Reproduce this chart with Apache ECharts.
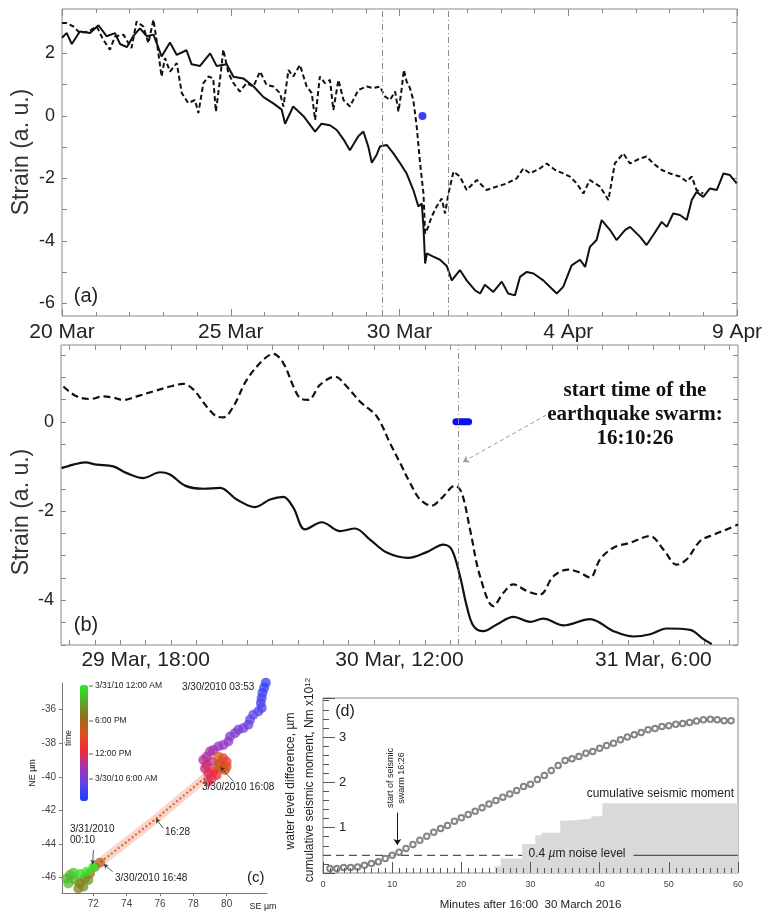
<!DOCTYPE html>
<html><head><meta charset="utf-8">
<script src="https://cdn.jsdelivr.net/npm/echarts@6/dist/echarts.min.js"></script>
<style>html,body{margin:0;padding:0;background:#fff}#c{width:766px;height:914px}</style>
</head><body><div id="c"></div>
<script>
const FONT = '"Liberation Sans", Arial, Helvetica, sans-serif';
const SERIF = '"Liberation Serif", "Times New Roman", serif';

// ---------- Panel (a): days after 20 Mar ----------
const aTickDays = [0, 5, 10, 15, 20];
const aTickLabels = ['20 Mar', '25 Mar', '30 Mar', '4 Apr', '9 Apr'];
const aYTicks = [-6, -5, -4, -3, -2, -1, 0, 1, 2, 3];
const aYLabels = [-6, -4, -2, 0, 2];
const aSolid = [[0,2.5],[0.14,2.65],[0.29,2.3],[0.53,2.7],[0.83,2.65],[1.08,2.9],[1.32,2.55],[1.57,2.65],[1.72,2.3],[1.92,2.2],[2.11,2.55],[2.31,2.8],[2.51,2.55],[2.71,2.6],[2.85,2.2],[2.95,1.9],[3.2,2.35],[3.4,1.95],[3.69,2.1],[3.84,1.65],[4.09,1.6],[4.39,2.0],[4.58,1.6],[4.88,1.65],[5.08,1.25],[5.37,1.2],[5.67,0.95],[5.97,0.6],[6.26,0.4],[6.51,0.2],[6.61,-0.25],[6.85,0.3],[7.15,0.0],[7.5,-0.5],[7.69,-0.25],[7.94,-0.3],[8.14,-0.45],[8.34,-0.75],[8.53,-1.1],[8.78,-0.65],[8.93,-0.5],[9.08,-1.0],[9.18,-1.5],[9.32,-1.25],[9.42,-0.98],[9.62,-0.93],[9.82,-1.2],[10.01,-1.5],[10.21,-1.84],[10.41,-2.37],[10.56,-2.9],[10.66,-2.8],[10.71,-3.55],[10.76,-4.72],[10.81,-4.4],[11.0,-4.5],[11.2,-4.6],[11.4,-4.8],[11.55,-5.26],[11.79,-4.93],[11.99,-5.26],[12.24,-5.58],[12.39,-5.68],[12.53,-5.4],[12.78,-5.63],[13.03,-5.3],[13.22,-5.68],[13.42,-5.74],[13.57,-5.15],[13.77,-4.99],[13.97,-5.04],[14.26,-5.26],[14.46,-5.47],[14.66,-5.68],[14.85,-5.47],[15.1,-4.78],[15.35,-4.6],[15.5,-4.83],[15.64,-4.19],[15.84,-3.97],[15.99,-3.33],[16.24,-3.65],[16.43,-3.97],[16.68,-3.65],[16.83,-3.55],[17.13,-3.87],[17.32,-4.13],[17.52,-3.81],[17.77,-3.39],[17.92,-3.55],[18.11,-3.12],[18.31,-3.17],[18.51,-3.33],[18.66,-2.69],[18.8,-2.43],[19.0,-2.59],[19.2,-2.32],[19.4,-2.37],[19.6,-1.84],[19.79,-1.89],[19.99,-2.16]];
const aDashed = [[0,2.97],[0.14,2.97],[0.34,2.86],[0.53,2.65],[0.78,2.7],[1.03,2.86],[1.22,2.44],[1.42,2.12],[1.57,2.54],[1.82,2.6],[2.06,2.17],[2.21,3.02],[2.41,2.86],[2.56,2.33],[2.71,3.08],[2.8,2.44],[2.95,1.26],[3.05,1.85],[3.2,1.42],[3.4,1.69],[3.55,0.73],[3.74,0.41],[3.94,0.51],[4.04,0.09],[4.19,1.05],[4.34,1.26],[4.48,1.2],[4.56,0.14],[4.68,1.15],[4.78,2.12],[4.93,1.37],[5.08,1.05],[5.27,0.78],[5.47,1.05],[5.67,0.94],[5.87,1.42],[6.06,0.99],[6.26,0.94],[6.46,0.73],[6.56,0.3],[6.71,1.47],[6.85,1.26],[7.05,1.63],[7.25,0.94],[7.4,0.73],[7.5,-0.13],[7.64,1.26],[7.79,1.05],[7.94,1.15],[8.04,0.19],[8.19,1.15],[8.34,0.51],[8.53,0.3],[8.78,0.83],[9.03,0.94],[9.22,0.89],[9.42,0.94],[9.57,0.62],[9.72,0.51],[9.87,0.78],[9.97,0.14],[10.06,0.83],[10.13,1.47],[10.21,1.1],[10.31,0.89],[10.41,0.51],[10.51,-0.34],[10.61,-1.52],[10.71,-2.48],[10.76,-3.76],[10.85,-3.55],[10.95,-3.23],[11.1,-2.9],[11.25,-2.64],[11.35,-3.12],[11.45,-2.48],[11.6,-1.78],[11.79,-1.94],[11.99,-2.37],[12.29,-2.05],[12.58,-2.37],[12.88,-2.26],[13.18,-2.16],[13.47,-2.0],[13.67,-1.68],[13.87,-1.84],[14.16,-1.68],[14.36,-1.52],[14.61,-1.73],[14.85,-1.84],[15.05,-1.94],[15.25,-2.16],[15.45,-2.48],[15.64,-2.05],[15.94,-2.26],[16.19,-2.69],[16.38,-1.52],[16.63,-1.2],[16.83,-1.52],[17.13,-1.36],[17.32,-1.3],[17.52,-1.52],[17.77,-1.73],[18.01,-1.84],[18.31,-1.94],[18.51,-2.1],[18.66,-1.94],[18.8,-2.37],[19.0,-2.48]];
const aSwarmDot = [[10.68, 0]];
const aVLines = [9.5, 11.45];

// ---------- Panel (b): hours after 29 Mar 12:00 ----------
const bTickHours = [0.6,2.4,4.2,6,7.8,9.6,11.4,13.2,15,16.8,18.6,20.4,22.2,24,25.8,27.6,29.4,31.2,33,34.8,36.6,38.4,40.2,42,43.8,45.6,47.4];
const bLabelHours = [6, 24, 42];
const bTickLabels = ['29 Mar, 18:00', '30 Mar, 12:00', '31 Mar, 6:00'];
const bYTicks = [-5,-4.5,-4,-3.5,-3,-2.5,-2,-1.5,-1,-0.5,0,0.5,1,1.5];
const bYLabels = [-4, -2, 0];
const bSolid = [[0.05,-1.04],[0.87,-0.96],[1.7,-0.91],[2.53,-0.96],[3.71,-1.0],[4.66,-1.15],[5.84,-1.26],[7.02,-1.13],[7.73,-1.18],[8.79,-1.43],[10.09,-1.5],[11.28,-1.48],[12.46,-1.74],[13.76,-1.91],[14.82,-1.74],[15.77,-1.68],[16.48,-1.93],[17.3,-2.41],[18.49,-2.25],[19.79,-2.45],[20.85,-2.39],[21.91,-2.64],[23.1,-2.93],[24.63,-3.05],[25.93,-2.92],[27.11,-2.75],[27.7,-2.86],[28.29,-3.46],[28.77,-4.13],[29.24,-4.57],[29.95,-4.69],[30.9,-4.54],[32.08,-4.37],[33.26,-4.48],[34.2,-4.41],[35.62,-4.56],[37.51,-4.42],[39.17,-4.69],[40.59,-4.81],[41.77,-4.76],[42.95,-4.63],[44.6,-4.66],[45.55,-4.87],[46.14,-4.98]];
const bDashed = [[0.17,0.79],[1.1,0.57],[2.06,0.51],[3.0,0.57],[3.7,0.54],[4.42,0.49],[5.37,0.57],[6.55,0.68],[7.73,0.79],[8.68,0.85],[9.39,0.72],[10.33,0.34],[11.04,0.12],[11.51,0.1],[12.22,0.34],[13.17,0.94],[14.35,1.39],[15.06,1.52],[15.77,1.31],[16.48,0.79],[16.95,0.53],[17.54,0.49],[18.37,0.83],[19.43,1.01],[20.26,0.79],[21.21,0.45],[22.39,0.12],[23.33,-0.48],[24.04,-0.92],[24.75,-1.37],[25.46,-1.74],[26.28,-1.88],[26.99,-1.71],[27.94,-1.43],[28.41,-1.59],[29.0,-2.41],[29.71,-3.46],[30.66,-4.13],[31.37,-3.83],[32.08,-3.64],[33.02,-3.79],[33.97,-3.87],[34.91,-3.46],[35.98,-3.31],[36.8,-3.38],[37.51,-3.49],[38.22,-3.08],[39.17,-2.82],[40.35,-2.71],[41.77,-2.56],[42.71,-2.86],[43.66,-3.2],[44.37,-3.08],[45.32,-2.67],[46.26,-2.53],[47.21,-2.41],[48.0,-2.3]];
const bSwarmBar = [[28.0, 0], [28.9, 0]];
const bVLine = [28.13];
const bArrow = [[34.4, 0.15], [28.5, -0.9]];

// ---------- Panel (c): GPS trajectory (SE, NE in micrometres; time in hours of 30 Mar) ----------
const cXLabels = [72, 74, 76, 78, 80];
const cYLabels = [-46, -44, -42, -40, -38, -36];
const cSE   = [82.35,82.25,82.15,82.1,82.05,82.1,81.9,81.6,81.4,81.3,81.0,80.7,80.5,80.2,80.1,79.8,79.5,79.2,79.0,78.8,78.6,78.8,79.1,78.7,78.9,79.1,78.9,79.2,79.4,79.6,79.8,80.0,79.7,80.0,79.5,79.9,79.5,72.4,72.1,71.8,71.5,71.2,71.1,71.4,71.7,70.9,70.6,70.4,70.5,70.8,71.2,71.6,72.0];
const cNE   = [-34.4,-34.7,-35.0,-35.3,-35.6,-35.9,-36.1,-36.3,-36.6,-36.9,-37.1,-37.2,-37.4,-37.6,-37.9,-38.1,-38.2,-38.4,-38.5,-38.8,-39.0,-39.3,-39.1,-39.5,-39.8,-40.1,-40.3,-39.7,-39.9,-39.2,-38.9,-39.1,-39.5,-39.4,-38.8,-39.6,-39.3,-45.12,-45.36,-45.76,-46.06,-46.36,-46.66,-46.56,-46.16,-46.16,-45.86,-46.06,-46.36,-45.72,-45.8,-45.66,-45.4];
const cTime = [3.9,4.2,4.5,4.8,5.1,5.4,5.7,6.0,6.3,6.6,6.9,7.2,7.5,7.8,8.1,8.4,8.7,9.0,9.3,9.6,9.9,10.2,10.5,10.8,11.1,11.4,11.7,12.0,12.3,12.8,13.3,13.8,14.3,14.8,15.3,15.8,16.13,16.8,17.2,17.6,18.0,18.5,19.0,19.5,20.0,20.5,21.0,21.5,22.0,22.5,23.0,23.5,24.0];
const cPathSE = [79.5, 75.76, 72.4];
const cPathNE = [-39.39, -42.51, -45.12];

// ---------- Panel (d): minutes after 16:00 ----------
const dMinutes = Array.from({length: 59}, (_, i) => i + 1);
const dWater = [0.10,0.10,0.12,0.12,0.13,0.17,0.21,0.25,0.32,0.39,0.46,0.54,0.63,0.72,0.81,0.90,0.98,1.05,1.14,1.22,1.29,1.36,1.44,1.52,1.60,1.67,1.74,1.82,1.91,1.96,2.06,2.15,2.26,2.37,2.48,2.52,2.57,2.64,2.68,2.75,2.81,2.86,2.94,3.0,3.05,3.1,3.16,3.19,3.23,3.25,3.28,3.30,3.32,3.35,3.38,3.39,3.38,3.36,3.36];
const dMomentX = [24.8, 25.7, 28.8, 30.7, 31.6, 34.3, 36.0, 38.8, 40.4, 60];
const dMomentY = [0.15, 0.32, 0.64, 0.83, 0.89, 1.16, 1.20, 1.25, 1.54, 1.54];
const dYLabels = [1, 2, 3];
const dNoise = 0.39;
const dNoiseDashX = [0, 28.8];
const dNoiseSolidX = [44.9, 60];
const dSwarmArrow = [[10.75, 1.33], [10.75, 0.62]];

// ---------- helpers ----------
const GREY = '#8a8a8a';
function tickAxis(o) {
  const base = {type:'value', splitLine:{show:false}};
  const r = Object.assign(base, o);
  r.axisLine = Object.assign({show:false, onZero:false}, o.axisLine || {});
  return r;
}
function txt(x, y, text, size, extra) {
  return Object.assign({type:'text', x:x, y:y, silent:true, z:100,
    style:Object.assign({text:text, font: size + 'px ' + FONT, fill:'#222', textAlign:'left', textVerticalAlign:'middle'}, extra && extra.style || {})},
    extra && extra.el || {});
}

const chart = echarts.init(document.getElementById('c'), null, {renderer:'canvas'});

const grids = [
  {left:62, top:9, width:675, height:307},
  {left:61, top:345, width:677, height:300},
  {left:62, top:683, width:205, height:210},
  {left:323, top:698, width:415, height:175}
].map((g, i) => Object.assign({show: i !== 2, borderColor: GREY, borderWidth: 1, backgroundColor:'transparent', containLabel:false, outerBoundsMode:'none'}, g));

const xAxes = [
  tickAxis({gridIndex:0, min:0, max:20, interval:5, position:'bottom',
    axisTick:{show:true, inside:true, length:7, lineStyle:{color:GREY}},
    minorTick:{show:true, splitNumber:5, length:4, lineStyle:{color:GREY}},
    axisLabel:{margin:6, fontSize:21, color:'#222', fontFamily:FONT, formatter: v => aTickLabels[aTickDays.indexOf(v)] || ''}}),
  tickAxis({gridIndex:0, min:0, max:20, interval:5, position:'top',
    axisTick:{show:true, inside:true, length:7, lineStyle:{color:GREY}},
    minorTick:{show:true, splitNumber:5, length:4, lineStyle:{color:GREY}},
    axisLabel:{show:false}}),
  tickAxis({gridIndex:1, min:0, max:48, position:'bottom',
    axisTick:{show:true, inside:true, length:5, lineStyle:{color:GREY}, customValues:bTickHours},
    axisLabel:{margin:5, fontSize:21, color:'#222', fontFamily:FONT, customValues:bLabelHours,
      formatter: v => bTickLabels[bLabelHours.indexOf(v)] || ''}}),
  tickAxis({gridIndex:1, min:0, max:48, position:'top',
    axisTick:{show:true, inside:true, length:5, lineStyle:{color:GREY}, customValues:bTickHours},
    axisLabel:{show:false}}),
  tickAxis({gridIndex:2, min:70.12, max:82.42, position:'bottom',
    axisLine:{show:true, lineStyle:{color:'#777', width:1}},
    axisTick:{show:true, inside:false, length:3, lineStyle:{color:'#777'}, customValues:cXLabels},
    axisLabel:{margin:6, fontSize:10, color:'#444', fontFamily:FONT, customValues:cXLabels}}),
  tickAxis({gridIndex:3, min:0, max:60, interval:10, position:'bottom', z:10,
    axisTick:{show:true, inside:true, length:11, lineStyle:{color:'#555'}},
    minorTick:{show:true, splitNumber:10, length:5, lineStyle:{color:'#555'}},
    axisLabel:{margin:7, fontSize:9, color:'#444', fontFamily:FONT},
    name:'Minutes after 16:00  30 March 2016', nameLocation:'middle', nameGap:26,
    nameTextStyle:{fontSize:11.5, color:'#222', fontFamily:FONT}})
];
const yAxes = [
  tickAxis({gridIndex:0, min:-6.4, max:3.42, position:'left',
    axisTick:{show:true, inside:true, length:5, lineStyle:{color:GREY}, customValues:aYTicks},
    axisLabel:{margin:7, fontSize:18, color:'#222', fontFamily:FONT, customValues:aYLabels}}),
  tickAxis({gridIndex:0, min:-6.4, max:3.42, position:'right',
    axisTick:{show:true, inside:true, length:5, lineStyle:{color:GREY}, customValues:aYTicks},
    axisLabel:{show:false}}),
  tickAxis({gridIndex:1, min:-5, max:1.72, position:'left',
    axisTick:{show:true, inside:true, length:5, lineStyle:{color:GREY}, customValues:bYTicks},
    axisLabel:{margin:7, fontSize:18, color:'#222', fontFamily:FONT, customValues:bYLabels}}),
  tickAxis({gridIndex:1, min:-5, max:1.72, position:'right',
    axisTick:{show:true, inside:true, length:5, lineStyle:{color:GREY}, customValues:bYTicks},
    axisLabel:{show:false}}),
  tickAxis({gridIndex:2, min:-46.93, max:-34.41, position:'left',
    axisLine:{show:true, lineStyle:{color:'#777', width:1}},
    axisTick:{show:true, inside:false, length:3, lineStyle:{color:'#777'}, customValues:cYLabels},
    axisLabel:{margin:6, fontSize:10, color:'#444', fontFamily:FONT, customValues:cYLabels}}),
  tickAxis({gridIndex:3, min:0, max:3.86, interval:1, position:'left', z:10,
    axisTick:{show:true, inside:true, length:12, lineStyle:{color:'#555'}},
    minorTick:{show:true, splitNumber:5, length:6, lineStyle:{color:'#555'}},
    axisLabel:{inside:true, margin:16, fontSize:13, color:'#222', fontFamily:FONT, customValues:dYLabels}})
];

const vLineStyle = {color:'#8c8c8c', width:1, type:[6,3,1,3]};
const series = [
  {name:'aSolid', type:'line', xAxisIndex:0, yAxisIndex:0, data:aSolid, showSymbol:false, lineStyle:{color:'#111', width:2},
    markLine:{silent:true, symbol:'none', label:{show:false}, lineStyle:vLineStyle, data:aVLines.map(v => ({xAxis:v}))}},
  {name:'aDashed', type:'line', xAxisIndex:0, yAxisIndex:0, data:aDashed, showSymbol:false, lineStyle:{color:'#111', width:2, type:[5,3]}},
  {name:'aDot', type:'scatter', xAxisIndex:0, yAxisIndex:0, data:aSwarmDot, symbolSize:8, itemStyle:{color:'#0a10f5'}},
  {name:'bSolid', type:'line', xAxisIndex:2, yAxisIndex:2, data:bSolid, smooth:0.35, showSymbol:false, lineStyle:{color:'#111', width:2.2},
    markLine:{silent:true, symbol:'none', label:{show:false}, lineStyle:vLineStyle, data:bVLine.map(v => ({xAxis:v}))}},
  {name:'bDashed', type:'line', xAxisIndex:2, yAxisIndex:2, data:bDashed, smooth:0.35, showSymbol:false, lineStyle:{color:'#111', width:2.2, type:[7,4]}},
  {name:'bBar', type:'line', xAxisIndex:2, yAxisIndex:2, data:bSwarmBar, showSymbol:false, lineStyle:{color:'#0a10f0', width:7, cap:'round'},
    markLine:{silent:true, symbol:['none','arrow'], symbolSize:6, label:{show:false},
      lineStyle:{color:'#9a9a9a', width:1, type:[4,3]},
      data:[[{coord:bArrow[0]}, {coord:bArrow[1]}]]}},
  {name:'cHalo', type:'line', xAxisIndex:4, yAxisIndex:4, data:cPathSE.map((v,i) => [v, cPathNE[i]]), showSymbol:false,
    lineStyle:{color:'rgba(240,165,140,0.45)', width:9}, z:1,
    markLine:{silent:true, symbol:['none','arrow'], symbolSize:4, label:{show:false},
      lineStyle:{color:'#333', width:0.8, type:'solid'},
      data:[
        [{coord:[81.5,-34.5], symbol:'none'}, {coord:[82.2,-34.4], symbol:'none'}],
        [{coord:[80.4,-40.28]}, {coord:[79.64,-39.43]}],
        [{coord:[76.2,-43.07]}, {coord:[75.76,-42.51]}],
        [{coord:[72.0,-44.37]}, {coord:[71.96,-45.2]}],
        [{coord:[73.16,-45.66]}, {coord:[72.64,-45.22]}]
      ]}},
  {name:'cPath', type:'line', xAxisIndex:4, yAxisIndex:4, data:cPathSE.map((v,i) => [v, cPathNE[i]]), showSymbol:false,
    lineStyle:{color:'#e0703a', width:2.2, type:'dotted'}, z:2},
  {name:'cTrack', type:'scatter', xAxisIndex:4, yAxisIndex:4, clip:false,
    data:cSE.map((v,i) => [v, cNE[i], cTime[i]]), symbolSize:10, itemStyle:{opacity:0.75}, z:3},
  {name:'dMoment', type:'line', xAxisIndex:5, yAxisIndex:5, step:'end', data:dMomentX.map((v,i) => [v, dMomentY[i]]),
    showSymbol:false, lineStyle:{width:0}, areaStyle:{color:'#d9d9d9', opacity:1}, z:1},
  {name:'dNoiseDash', type:'line', xAxisIndex:5, yAxisIndex:5, data:dNoiseDashX.map(v => [v, dNoise]), showSymbol:false,
    lineStyle:{color:'#555', width:1.3, type:[8,5]}},
  {name:'dNoiseSolid', type:'line', xAxisIndex:5, yAxisIndex:5, data:dNoiseSolidX.map(v => [v, dNoise]), showSymbol:false,
    lineStyle:{color:'#555', width:1.3}},
  {name:'dWater', type:'scatter', xAxisIndex:5, yAxisIndex:5, data:dMinutes.map((m,i) => [m, dWater[i]]),
    symbol:'emptyCircle', symbolSize:5.5, itemStyle:{color:'#666', borderWidth:1}, z:5,
    markLine:{silent:true, symbol:['none','arrow'], symbolSize:6, label:{show:false},
      lineStyle:{color:'#111', width:1, type:'solid'},
      data:[[{coord:dSwarmArrow[0]}, {coord:dSwarmArrow[1]}]]}}
];
const cTrackIndex = series.findIndex(s => s.name === 'cTrack');

const ROT = Math.PI / 2;
const graphics = [
  txt(22, 152, 'Strain (a. u.)', 23, {el:{rotation:ROT}, style:{textAlign:'center', fill:'#333'}}),
  txt(86, 296, '(a)', 20, {style:{textAlign:'center'}}),
  txt(22, 512, 'Strain (a. u.)', 23, {el:{rotation:ROT}, style:{textAlign:'center', fill:'#333'}}),
  txt(86, 625, '(b)', 20, {style:{textAlign:'center'}}),
  {type:'text', x:635, y:415, silent:true, z:100, style:{text:'start time of the\nearthquake swarm:\n16:10:26',
    font:'bold 21px ' + SERIF, fill:'#111', textAlign:'center', textVerticalAlign:'middle', lineHeight:24}},
  txt(182, 687, '3/30/2010 03:53', 10),
  txt(202, 787, '3/30/2010 16:08', 10),
  txt(165, 832, '16:28', 10),
  {type:'text', x:70, y:835, silent:true, z:100, style:{text:'3/31/2010\n00:10', font:'10px ' + FONT, fill:'#222', textAlign:'left', textVerticalAlign:'middle', lineHeight:11}},
  txt(115, 878, '3/30/2010 16:48', 10),
  txt(247, 878, '(c)', 15),
  txt(95, 686, '3/31/10 12:00 AM', 8.5),
  txt(95, 721, '6:00 PM', 8.5),
  txt(95, 754, '12:00 PM', 8.5),
  txt(95, 779, '3/30/10 6:00 AM', 8.5),
  {type:'line', silent:true, shape:{x1:89, y1:686, x2:93, y2:686}, style:{stroke:'#333', lineWidth:0.8}},
  {type:'line', silent:true, shape:{x1:89, y1:721, x2:93, y2:721}, style:{stroke:'#333', lineWidth:0.8}},
  {type:'line', silent:true, shape:{x1:89, y1:754, x2:93, y2:754}, style:{stroke:'#333', lineWidth:0.8}},
  {type:'line', silent:true, shape:{x1:89, y1:779, x2:93, y2:779}, style:{stroke:'#333', lineWidth:0.8}},
  txt(69, 738, 'time', 8.5, {el:{rotation:ROT}, style:{textAlign:'center'}}),
  txt(33, 773, 'NE \u00b5m', 9, {el:{rotation:ROT}, style:{textAlign:'center'}}),
  txt(263, 907, 'SE \u00b5m', 9, {style:{textAlign:'center'}}),
  txt(345, 712, '(d)', 16, {style:{textAlign:'center'}}),
  txt(734, 794, 'cumulative seismic moment', 12, {style:{textAlign:'right'}}),
  {type:'text', x:577, y:854, silent:true, z:100, style:{text:'0.4 {i|\u00b5}m noise level', font:'12px ' + FONT, fill:'#222',
    textAlign:'center', textVerticalAlign:'middle', rich:{i:{fontStyle:'italic', fontSize:12, fontFamily:FONT, fill:'#222'}}}},
  {type:'text', x:396.5, y:778, rotation:ROT, silent:true, z:100, style:{text:'start of seismic\nswarm 16:26', font:'9px ' + FONT,
    fill:'#222', textAlign:'center', textVerticalAlign:'middle', lineHeight:11}},
  txt(291, 781, 'water level difference, \u00b5m', 12, {el:{rotation:ROT}, style:{textAlign:'center'}}),
  {type:'text', x:310, y:780, rotation:ROT, silent:true, z:100, style:{text:'cumulative seismic moment, Nm x10{s|12}', font:'12px ' + FONT,
    fill:'#222', textAlign:'center', textVerticalAlign:'middle', rich:{s:{fontSize:8, fontFamily:FONT, fill:'#222', verticalAlign:'top'}}}}
];

chart.setOption({
  animation:false,
  backgroundColor:'#fff',
  grid:grids,
  xAxis:xAxes,
  yAxis:yAxes,
  visualMap:[{type:'continuous', seriesIndex:cTrackIndex, dimension:2, min:3, max:24, show:true,
    orient:'vertical', left:80, top:685, itemWidth:8, itemHeight:116, padding:0, calculable:false, hoverLink:false,
    inRange:{color:['#1a3cff','#5a44e8','#a032b8','#f0283c','#e0501e','#9a6a1a','#5aa82a','#22f022']}}],
  series:series,
  graphic:graphics
});
</script>
</body></html>
